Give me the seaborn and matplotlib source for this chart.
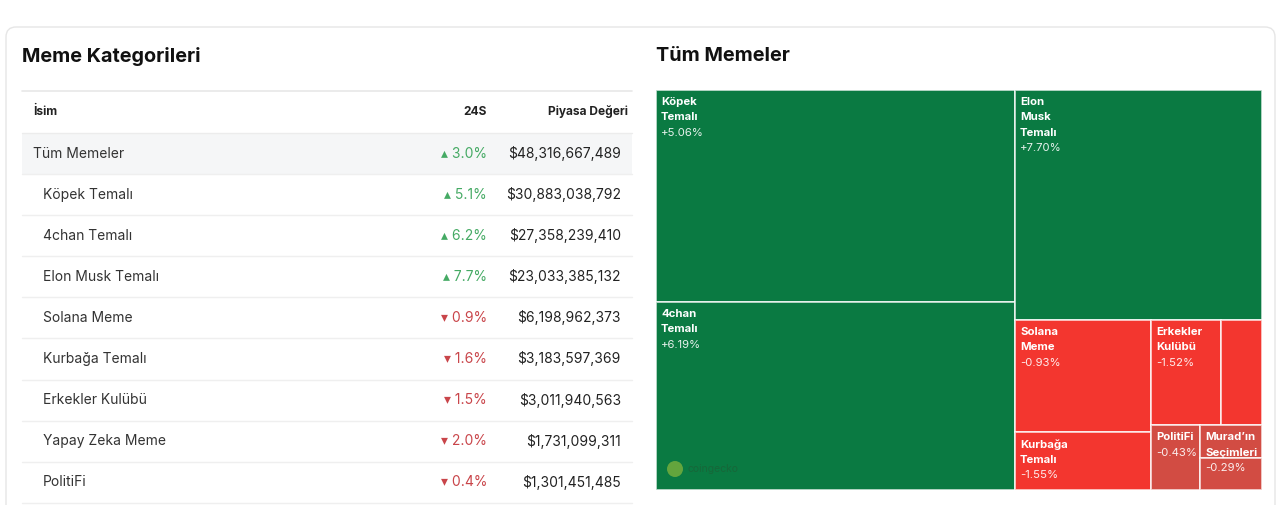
import matplotlib
matplotlib.use("Agg")
import matplotlib.pyplot as plt
import seaborn as sns
from matplotlib.patches import Rectangle, FancyBboxPatch, Circle

# ---------------- data ----------------
table_names = ["Tüm Memeler", "Köpek Temalı", "4chan Temalı", "Elon Musk Temalı",
               "Solana Meme", "Kurbağa Temalı", "Erkekler Kulübü", "Yapay Zeka Meme", "PolitiFi"]
table_level = [0, 1, 1, 1, 1, 1, 1, 1, 1]
table_change = [3.0, 5.1, 6.2, 7.7, -0.9, -1.6, -1.5, -2.0, -0.4]
table_mcap = [48316667489, 30883038792, 27358239410, 23033385132, 6198962373,
              3183597369, 3011940563, 1731099311, 1301451485]
table_headers = ["İsim", "24S", "Piyasa Değeri"]

tm_names = ["Köpek\nTemalı", "4chan\nTemalı", "Elon\nMusk\nTemalı", "Solana\nMeme",
            "Kurbağa\nTemalı", "Erkekler\nKulübü", "Yapay Zeka Meme", "PolitiFi",
            "Murad’ın\nSeçimleri", "Diğer"]
tm_values = [30.88, 27.36, 23.03, 6.20, 3.18, 3.01, 1.73, 1.30, 0.83, 0.79]   # billion USD
tm_change = [5.06, 6.19, 7.70, -0.93, -1.55, -1.52, -1.98, -0.43, -0.29, -0.35]
tm_show_label = [True, True, True, True, True, True, False, True, True, False]
tm_groups = [[0, 1], [2], [3, 4], [5, 6], [7], [8], [9]]   # strips of the squarified layout

# ---------------- style ----------------
sns.set_theme(style="white")
plt.rcParams["font.family"] = ["Inter", "DejaVu Sans"]

W, H = 1280, 505
fig = plt.figure(figsize=(W / 100, H / 100), dpi=100)
fig.patch.set_facecolor("white")

ax0 = fig.add_axes([0, 0, 1, 1])
ax0.set_xlim(0, W)
ax0.set_ylim(H, 0)
ax0.axis("off")

# card
ax0.add_patch(FancyBboxPatch((6, 27), 1269, 520, boxstyle="round,pad=0,rounding_size=10",
                             facecolor="white", edgecolor="#e6e6e6", linewidth=1.0))

# titles
ax0.text(22, 56, "Meme Kategorileri", fontsize=14.3, fontweight="bold", color="#111111",
         va="center", ha="left")
ax0.text(656, 56, "Tüm Memeler", fontsize=14.3, fontweight="bold", color="#111111",
         va="center", ha="left")

# ---------------- table ----------------
tx0, tx1 = 22, 632
col_name_x, col_chg_x, col_cap_x = 33, 487, 628
ax0.plot([tx0, tx1], [91, 91], color="#e8e8e8", lw=1.2)
hdr_fs = 8.6
ax0.text(col_name_x, 112, table_headers[0], fontsize=hdr_fs, fontweight="bold", color="#222222", va="center")
ax0.text(col_chg_x, 112, table_headers[1], fontsize=hdr_fs, fontweight="bold", color="#222222", va="center", ha="right")
ax0.text(col_cap_x, 112, table_headers[2], fontsize=hdr_fs, fontweight="bold", color="#222222", va="center", ha="right")
ax0.plot([tx0, tx1], [132.5, 132.5], color="#ececec", lw=1.0)

row0, rh = 153.5, 41.1
green_txt, red_txt = "#45aa64", "#c9454a"
for i, (nm, lv, ch, cap) in enumerate(zip(table_names, table_level, table_change, table_mcap)):
    yc = row0 + i * rh
    if lv == 0:
        ax0.add_patch(Rectangle((tx0, yc - rh / 2), tx1 - tx0, rh, facecolor="#f5f6f7", edgecolor="none"))
    ax0.plot([tx0, tx1], [yc + rh / 2, yc + rh / 2], color="#efefef", lw=1.0)
    ax0.text(col_name_x + 10 * lv, yc, nm, fontsize=10, color="#333333", va="center", ha="left")
    arrow = "▴" if ch >= 0 else "▾"
    ax0.text(col_chg_x, yc, f"{arrow} {abs(ch):.1f}%", fontsize=10,
             color=green_txt if ch >= 0 else red_txt, va="center", ha="right")
    ax0.text(col_cap_x - 7, yc, f"${cap:,.0f}", fontsize=10, color="#222222", va="center", ha="right")

# ---------------- treemap ----------------
TL, TT, TW, TH = 656, 90, 606, 400
ax = fig.add_axes([TL / W, 1 - (TT + TH) / H, TW / W, TH / H])
ax.set_xlim(0, TW)
ax.set_ylim(TH, 0)
ax.axis("off")


def strip_layout(values, groups, x, y, w, h):
    rects = {}
    scale = w * h / sum(values)
    for g in groups:
        area = sum(values[i] for i in g) * scale
        if h <= w:
            cw = area / h
            cy = y
            for i in g:
                ih = values[i] * scale / cw
                rects[i] = (x, cy, cw, ih)
                cy += ih
            x += cw
            w -= cw
        else:
            rhh = area / w
            cx = x
            for i in g:
                iw = values[i] * scale / rhh
                rects[i] = (cx, y, iw, rhh)
                cx += iw
            y += rhh
            h -= rhh
    return rects


reds = sns.blend_palette(["#d24c43", "#f3362f"], n_colors=2)


def cell_color(ch):
    if ch >= 0:
        return "#0a7a42"
    return reds[1] if ch <= -0.5 else reds[0]


rects = strip_layout(tm_values, tm_groups, 0, 0, TW, TH)
for i in range(len(tm_values)):
    x, y, w, h = rects[i]
    ax.add_patch(Rectangle((x, y), w, h, facecolor=cell_color(tm_change[i]),
                           edgecolor=(1, 1, 1, 0.75), linewidth=1.3))

for i in range(len(tm_values)):
    if not tm_show_label[i]:
        continue
    x, y, w, h = rects[i]
    lines = tm_names[i].split("\n")
    for k, ln in enumerate(lines):
        ax.text(x + 5, y + 12 + k * 15.4, ln, fontsize=8.2, fontweight="bold",
                color="white", va="center", ha="left")
    ax.text(x + 5, y + 12 + len(lines) * 15.4, f"{tm_change[i]:+.2f}%", fontsize=8.2,
            color="white", va="center", ha="left", alpha=0.9)

# watermark
wx, wy = rects[1][0] + 19, rects[1][1] + rects[1][3] - 21
ax.add_patch(Circle((wx, wy), 8, facecolor="#9fc23a", edgecolor="none", alpha=0.6))
ax.text(wx + 12, wy, "coingecko", fontsize=7.5, color="#1f5a33", alpha=0.6, va="center", ha="left")

fig.savefig("out.png", dpi=100, facecolor="white")
